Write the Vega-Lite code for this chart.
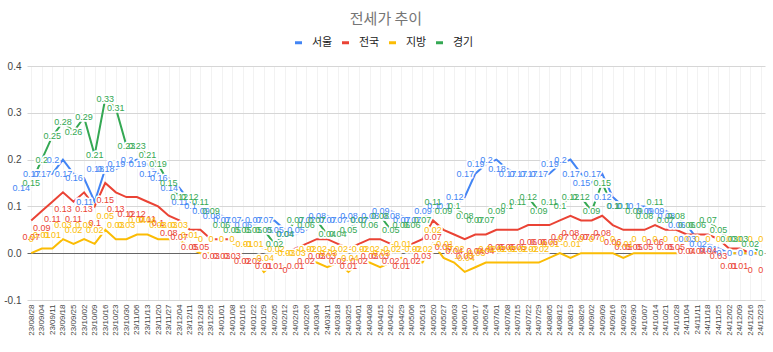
{
  "$schema": "https://vega.github.io/schema/vega-lite/v6.json",
  "width": 738,
  "height": 234,
  "autosize": {"type": "none"},
  "padding": {"left": 27, "top": 66, "right": 8, "bottom": 52},
  "background": "white",
  "config": {
    "locale": {"number": {"decimal": ".", "thousands": ",", "grouping": [3], "currency": ["$", ""], "minus": "-"}},
    "view": {"stroke": null},
    "font": "Liberation Sans"
  },
  "title": {"text": "전세가 추이", "font": "Noto Sans CJK KR", "fontSize": 15, "fontWeight": "normal", "color": "#757575", "anchor": "middle", "dx": -10, "offset": 10},
  "data": {"values": [
    {"d":"23/08/28","서울":0.14,"전국":0.07,"지방":0,"경기":0.15},
    {"d":"23/09/04","서울":0.17,"전국":0.09,"지방":0.01,"경기":0.2},
    {"d":"23/09/11","서울":0.17,"전국":0.11,"지방":0.01,"경기":0.25},
    {"d":"23/09/18","서울":0.2,"전국":0.13,"지방":0.03,"경기":0.28},
    {"d":"23/09/25","서울":0.17,"전국":0.11,"지방":0.02,"경기":0.26},
    {"d":"23/10/02","서울":0.16,"전국":0.13,"지방":0.03,"경기":0.29},
    {"d":"23/10/09","서울":0.11,"전국":0.1,"지방":0.02,"경기":0.21},
    {"d":"23/10/16","서울":0.18,"전국":0.15,"지방":0.05,"경기":0.33},
    {"d":"23/10/23","서울":0.18,"전국":0.13,"지방":0.03,"경기":0.31},
    {"d":"23/10/30","서울":0.19,"전국":0.12,"지방":0.03,"경기":0.23},
    {"d":"23/11/06","서울":0.2,"전국":0.12,"지방":0.04,"경기":0.23},
    {"d":"23/11/13","서울":0.19,"전국":0.11,"지방":0.04,"경기":0.21},
    {"d":"23/11/20","서울":0.17,"전국":0.1,"지방":0.03,"경기":0.19},
    {"d":"23/11/27","서울":0.16,"전국":0.08,"지방":0.03,"경기":0.15},
    {"d":"23/12/04","서울":0.14,"전국":0.07,"지방":0.03,"경기":0.12},
    {"d":"23/12/11","서울":0.11,"전국":0.05,"지방":0.01,"경기":0.12},
    {"d":"23/12/18","서울":0.1,"전국":0.05,"지방":0,"경기":0.11},
    {"d":"23/12/25","서울":0.09,"전국":0.03,"지방":0,"경기":0.09},
    {"d":"24/01/01","서울":0.08,"전국":0.03,"지방":0,"경기":0.06},
    {"d":"24/01/08","서울":0.07,"전국":0.03,"지방":0,"경기":0.05},
    {"d":"24/01/15","서울":0.07,"전국":0.02,"지방":-0.01,"경기":0.05},
    {"d":"24/01/22","서울":0.06,"전국":0.02,"지방":-0.01,"경기":0.05},
    {"d":"24/01/29","서울":0.07,"전국":0.01,"지방":-0.04,"경기":0.05},
    {"d":"24/02/05","서울":0.07,"전국":0.01,"지방":-0.02,"경기":0.02},
    {"d":"24/02/12","서울":0.05,"전국":0,"지방":-0.03,"경기":0.04},
    {"d":"24/02/19","서울":0.04,"전국":0.01,"지방":-0.03,"경기":0.07},
    {"d":"24/02/26","서울":0.05,"전국":0.02,"지방":-0.02,"경기":0.06},
    {"d":"24/03/04","서울":0.07,"전국":0.03,"지방":-0.02,"경기":0.07},
    {"d":"24/03/11","서울":0.08,"전국":0.03,"지방":-0.03,"경기":0.04},
    {"d":"24/03/18","서울":0.07,"전국":0.02,"지방":-0.02,"경기":0.04},
    {"d":"24/03/25","서울":0.07,"전국":0.01,"지방":-0.04,"경기":0.05},
    {"d":"24/04/01","서울":0.08,"전국":0.02,"지방":-0.02,"경기":0.07},
    {"d":"24/04/08","서울":0.07,"전국":0.03,"지방":-0.02,"경기":0.06},
    {"d":"24/04/15","서울":0.08,"전국":0.03,"지방":-0.03,"경기":0.08},
    {"d":"24/04/22","서울":0.09,"전국":0.02,"지방":-0.02,"경기":0.05},
    {"d":"24/04/29","서울":0.08,"전국":0.01,"지방":-0.01,"경기":0.06},
    {"d":"24/05/06","서울":0.07,"전국":0.02,"지방":-0.02,"경기":0.06},
    {"d":"24/05/13","서울":0.07,"전국":0.03,"지방":-0.02,"경기":0.07},
    {"d":"24/05/20","서울":0.09,"전국":0.07,"지방":0.02,"경기":0.11},
    {"d":"24/05/27","서울":0.1,"전국":0.05,"지방":-0.01,"경기":0.09},
    {"d":"24/06/03","서울":0.1,"전국":0.04,"지방":-0.02,"경기":0.1},
    {"d":"24/06/10","서울":0.12,"전국":0.03,"지방":-0.04,"경기":0.08},
    {"d":"24/06/17","서울":0.17,"전국":0.04,"지방":-0.03,"경기":0.07},
    {"d":"24/06/24","서울":0.19,"전국":0.04,"지방":-0.02,"경기":0.07},
    {"d":"24/07/01","서울":0.2,"전국":0.05,"지방":-0.02,"경기":0.09},
    {"d":"24/07/08","서울":0.18,"전국":0.05,"지방":-0.02,"경기":0.1},
    {"d":"24/07/15","서울":0.17,"전국":0.05,"지방":-0.02,"경기":0.11},
    {"d":"24/07/22","서울":0.17,"전국":0.06,"지방":-0.02,"경기":0.12},
    {"d":"24/07/29","서울":0.17,"전국":0.06,"지방":-0.02,"경기":0.09},
    {"d":"24/08/05","서울":0.17,"전국":0.06,"지방":-0.01,"경기":0.11},
    {"d":"24/08/12","서울":0.19,"전국":0.07,"지방":0,"경기":0.1},
    {"d":"24/08/19","서울":0.2,"전국":0.08,"지방":-0.01,"경기":0.12},
    {"d":"24/08/26","서울":0.17,"전국":0.07,"지방":0,"경기":0.12},
    {"d":"24/09/02","서울":0.15,"전국":0.07,"지방":0,"경기":0.09},
    {"d":"24/09/09","서울":0.17,"전국":0.08,"지방":0,"경기":0.15},
    {"d":"24/09/16","서울":0.12,"전국":0.06,"지방":0,"경기":0.1},
    {"d":"24/09/23","서울":0.1,"전국":0.05,"지방":-0.01,"경기":0.1},
    {"d":"24/09/30","서울":0.1,"전국":0.05,"지방":0,"경기":0.09},
    {"d":"24/10/07","서울":0.1,"전국":0.05,"지방":0,"경기":0.08},
    {"d":"24/10/14","서울":0.09,"전국":0.06,"지방":0,"경기":0.11},
    {"d":"24/10/21","서울":0.09,"전국":0.05,"지방":0,"경기":0.07},
    {"d":"24/10/28","서울":0.08,"전국":0.05,"지방":0,"경기":0.08},
    {"d":"24/11/04","서울":0.06,"전국":0.04,"지방":0,"경기":0.06},
    {"d":"24/11/11","서울":0.03,"전국":0.04,"지방":0,"경기":0.06},
    {"d":"24/11/18","서울":0.02,"전국":0.04,"지방":0,"경기":0.07},
    {"d":"24/11/25","서울":0.01,"전국":0.03,"지방":0,"경기":0.05},
    {"d":"24/12/02","서울":0,"전국":0.01,"지방":0,"경기":0.03},
    {"d":"24/12/09","서울":0,"전국":0.01,"지방":0,"경기":0.03},
    {"d":"24/12/16","서울":0,"전국":0,"지방":0,"경기":0.02},
    {"d":"24/12/23","서울":0,"전국":0,"지방":0,"경기":0}
  ]},
  "transform": [{"fold": ["서울", "전국", "지방", "경기"], "as": ["s", "v"]}],
  "encoding": {
    "x": {"field": "d", "type": "ordinal", "scale": {"type": "point", "padding": 0.4}, "title": null,
      "axis": {"labelAngle": -90, "labelFontSize": 8, "labelColor": "#444", "labelPadding": 4, "ticks": false, "domain": false, "grid": true, "gridColor": "#f2f2f2", "labelOverlap": false}},
    "y": {"field": "v", "type": "quantitative", "scale": {"domain": [-0.1, 0.4], "nice": false}, "title": null,
      "axis": {"values": [-0.1, 0, 0.1, 0.2, 0.3, 0.4], "format": ".1f", "labelFontSize": 10, "labelColor": "#444", "labelPadding": 6, "ticks": false, "domain": false, "grid": true,
        "gridColor": {"condition": {"test": "datum.value === 0", "value": "#666666"}, "value": "#d6d6d6"}}}
  },
  "layer": [
    {"mark": {"type": "line", "strokeWidth": 2},
     "encoding": {"color": {"field": "s", "type": "nominal",
       "scale": {"domain": ["서울", "전국", "지방", "경기"], "range": ["#4285F4", "#EA4335", "#FBBC04", "#34A853"]},
       "legend": {"title": null, "orient": "none", "direction": "horizontal", "legendX": 266, "legendY": -29,
         "symbolType": "stroke", "symbolSize": 49, "symbolStrokeWidth": 3, "labelFont": "Noto Sans CJK KR", "labelFontSize": 11, "labelColor": "#222", "labelOffset": 8, "columnPadding": 3}}}},
    {"transform": [{"filter": "datum.s === '서울'"}], "mark": {"type": "text", "fontSize": 9, "dx": -10, "fill": "white", "stroke": "white", "strokeWidth": 3.5, "strokeJoin": "round"}, "encoding": {"text": {"field": "v", "type": "quantitative", "format": ".2~f"}}},
    {"transform": [{"filter": "datum.s === '전국'"}], "mark": {"type": "text", "fontSize": 9, "dy": 17, "fill": "white", "stroke": "white", "strokeWidth": 3.5, "strokeJoin": "round"}, "encoding": {"text": {"field": "v", "type": "quantitative", "format": ".2~f"}}},
    {"transform": [{"filter": "datum.s === '지방'"}], "mark": {"type": "text", "fontSize": 9, "dy": -14, "fill": "white", "stroke": "white", "strokeWidth": 3.5, "strokeJoin": "round"}, "encoding": {"text": {"field": "v", "type": "quantitative", "format": ".2~f"}}},
    {"transform": [{"filter": "datum.s === '경기'"}], "mark": {"type": "text", "fontSize": 9, "fill": "white", "stroke": "white", "strokeWidth": 3.5, "strokeJoin": "round"}, "encoding": {"text": {"field": "v", "type": "quantitative", "format": ".2~f"}}},
    {"transform": [{"filter": "datum.s === '서울'"}], "mark": {"type": "text", "fontSize": 9, "dx": -10, "color": "#4285F4"}, "encoding": {"text": {"field": "v", "type": "quantitative", "format": ".2~f"}}},
    {"transform": [{"filter": "datum.s === '전국'"}], "mark": {"type": "text", "fontSize": 9, "dy": 17, "color": "#EA4335"}, "encoding": {"text": {"field": "v", "type": "quantitative", "format": ".2~f"}}},
    {"transform": [{"filter": "datum.s === '지방'"}], "mark": {"type": "text", "fontSize": 9, "dy": -14, "color": "#FBBC04"}, "encoding": {"text": {"field": "v", "type": "quantitative", "format": ".2~f"}}},
    {"transform": [{"filter": "datum.s === '경기'"}], "mark": {"type": "text", "fontSize": 9, "color": "#34A853"}, "encoding": {"text": {"field": "v", "type": "quantitative", "format": ".2~f"}}}
  ]
}
